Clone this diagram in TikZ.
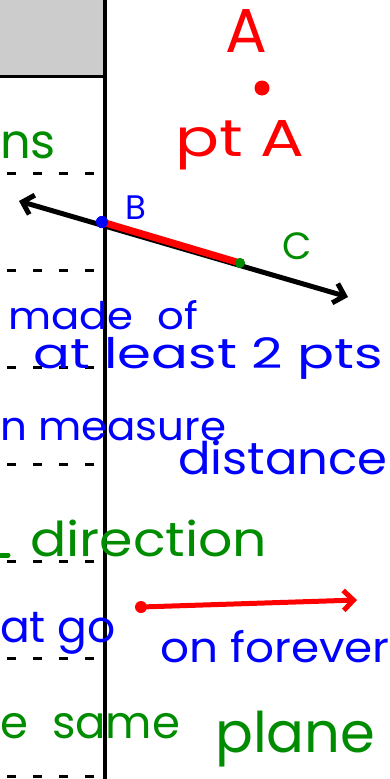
\documentclass[tikz,border=0pt]{standalone}
\usepackage{fontspec}
\setmainfont{Poppins}
\usepackage{graphicx}
\usetikzlibrary{arrows.meta}

\definecolor{penred}{RGB}{255,0,0}
\definecolor{penblue}{RGB}{0,0,255}
\definecolor{pengreen}{RGB}{0,140,0}

\begin{document}
\begin{tikzpicture}[
  x=1pt, y=-1pt,
  pen/.style={inner sep=0pt, anchor=base west, font=\fontsize{#1}{#1}\selectfont},
  dashrule/.style={dash pattern=on 9pt off 17pt, line width=3pt},
  stroke/.style={line width=5pt, line cap=round, line join=round},
  blob/.style={circle, inner sep=0pt, minimum size=#1}
]
  \useasboundingbox (0,0) rectangle (390,779);

  % left column
  \fill[black!20] (0,0) rectangle (105,76);
  \draw[line width=3pt] (0,76) -- (105,76);
  \draw[line width=4pt] (105,0) -- (105,779);
  \foreach \y in {173,270,367,464,561,658,776}
    \draw[dashrule] (7,\y) -- (103,\y);

  % point
  \node[pen=62, text=penred] (wA) at (225,52) {A};
  \node[blob=15pt, fill=penred] (dotA) at (262,88) {};
  \node[pen=52, text=penred] (ptA) at (175,156) {\scalebox{1.25}[1]{pt A}};
  \node[pen=48, text=pengreen] (ns) at (0,158) {ns};

  % line
  \coordinate (lineL) at (19,201);
  \coordinate (lineR) at (348,297);
  \node[blob=12pt, fill=penblue] (ptB) at (102,222) {};
  \node[blob=10pt, fill=pengreen] (ptC) at (240,263) {};
  \draw[stroke, {Straight Barb[length=10pt,width=20pt]}-{Straight Barb[length=10pt,width=20pt]}] (lineL) -- (lineR);
  \draw[line width=7pt, penred, line cap=round] (ptB.center) -- (ptC.center);
  \node[blob=12pt, fill=penblue] at (ptB) {};
  \node[blob=10pt, fill=pengreen] at (ptC) {};
  \node[pen=34, text=penblue] (lbB) at (125,219) {B};
  \node[pen=38, text=pengreen] (lbC) at (282,259) {C};

  % notes
  \node[pen=38, text=penblue] (made) at (8,329) {\scalebox{1.1}[1]{made\hspace{22pt}of}};
  \node[pen=42, text=penblue] (least) at (33,368) {\scalebox{1.3}[1]{at least 2 pts}};
  \node[pen=40, text=penblue] (measure) at (0,440) {\scalebox{1.05}[1]{n measure}};
  \node[pen=45, text=penblue] (distance) at (178,474) {\scalebox{1.07}[1]{distance}};
  \draw[stroke, pengreen] (0,555) -- (8,555);
  \node[pen=48, text=pengreen] (direction) at (30,556) {\scalebox{1.12}[1]{direction}};

  % ray
  \node[blob=12pt, fill=penred] (rayDot) at (141,607) {};
  \coordinate (rayEnd) at (357,600);
  \draw[stroke, penred, -{Straight Barb[length=10pt,width=20pt]}] (rayDot) -- (rayEnd);
  \node[pen=44, text=penblue] (atgo) at (0,642) {at go};
  \node[pen=42, text=penblue] (forever) at (160,662) {\scalebox{1.08}[1]{on forever}};
  \node[pen=45, text=pengreen] (same) at (0,738) {e\hspace{24pt}same};
  \node[pen=56, text=pengreen] (plane) at (215,752) {plane};
\end{tikzpicture}
\end{document}
